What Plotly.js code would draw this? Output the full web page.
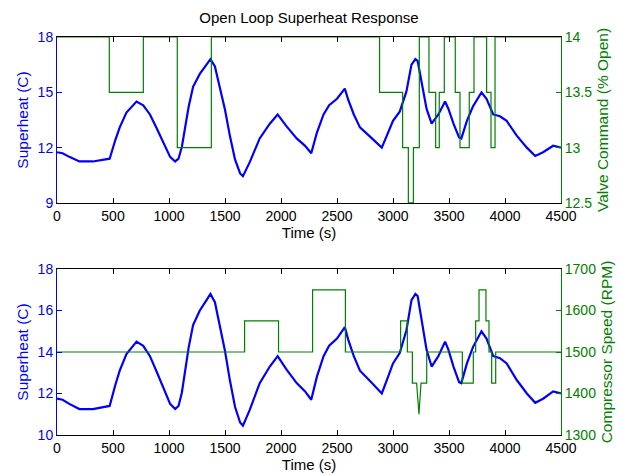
<!DOCTYPE html>
<html>
<head>
<meta charset="utf-8">
<script src="https://cdn.plot.ly/plotly-3.0.1.min.js"></script>
<style>html,body{margin:0;padding:0;background:#fff;}#chart{width:618px;height:475px;}</style>
</head>
<body>
<div id="chart"></div>
<script>
// Superheat (C) over time (s), shared by both panels
var time = [0,50,110,200,320,470,520,560,620,710,770,830,890,950,1010,1055,1085,1115,1145,1175,1215,1275,1335,1370,1410,1455,1500,1545,1590,1635,1660,1720,1810,1900,1970,2050,2140,2215,2270,2320,2380,2430,2500,2570,2600,2650,2705,2795,2900,2945,3000,3060,3120,3165,3200,3220,3255,3300,3345,3405,3465,3495,3540,3590,3610,3660,3715,3790,3835,3895,3955,4015,4105,4195,4270,4340,4430,4500];
var superheat = [11.75,11.7,11.5,11.25,11.25,11.4,12.4,13.1,13.9,14.5,14.3,13.8,13.05,12.25,11.5,11.25,11.4,12.05,13.15,14.2,15.3,16.0,16.5,16.8,16.4,15.3,14.05,12.6,11.35,10.6,10.45,11.2,12.5,13.3,13.8,13.15,12.5,12.1,11.7,12.8,13.8,14.3,14.65,15.2,14.6,13.8,13.1,12.6,12.0,12.65,13.45,13.95,15.05,16.5,16.8,16.7,15.55,14.1,13.3,13.8,14.5,14.1,13.3,12.55,12.5,13.45,14.25,15.0,14.65,13.8,13.7,13.45,12.65,12.0,11.55,11.75,12.1,12.0];

// Valve command (% open), change points (step, held until next)
var valveTime = [0,467,771,1074,1378,2880,3086,3137,3182,3235,3321,3381,3413,3458,3556,3598,3681,3723,3836,3875,3911,4500];
var valve = [14,13.5,14,13,14,13.5,13,12.5,13,14,13.5,13,13.5,14,13.5,13,13.5,14,13.5,13,14,14];

// Compressor speed (RPM), polyline vertices
var compTime = [0,1675,1675,1978,1978,2282,2282,2575,2575,3068,3068,3128,3128,3173,3173,3211,3232,3250,3301,3301,3619,3619,3717,3717,3738,3738,3768,3768,3830,3830,3857,3857,3881,3881,3917,3917,4500];
var compSpeed = [1500,1500,1575,1575,1500,1500,1650,1650,1500,1500,1575,1575,1500,1500,1425,1425,1350,1425,1425,1500,1500,1425,1425,1500,1500,1575,1575,1650,1650,1575,1575,1500,1500,1425,1425,1500,1500];

var xTicks = [0,500,1000,1500,2000,2500,3000,3500,4000,4500];
var FONT = 'Liberation Sans, Arial, Helvetica, sans-serif';
var BLUE = '#0000ff', GREEN = '#008000';

var traces = [
  {x: time, y: superheat, xaxis: 'x', yaxis: 'y', mode: 'lines', line: {color: BLUE, width: 2.2}, hoverinfo: 'none'},
  {x: valveTime, y: valve, xaxis: 'x', yaxis: 'y2', mode: 'lines', line: {color: GREEN, width: 1.2, shape: 'hv'}, hoverinfo: 'none'},
  {x: time, y: superheat, xaxis: 'x2', yaxis: 'y3', mode: 'lines', line: {color: BLUE, width: 2.2}, hoverinfo: 'none'},
  {x: compTime, y: compSpeed, xaxis: 'x2', yaxis: 'y4', mode: 'lines', line: {color: GREEN, width: 1.2}, hoverinfo: 'none'}
];

function xax(anchor) {
  return {anchor: anchor, domain: [0, 1], range: [0, 4500], tickvals: xTicks, ticktext: xTicks.map(String),
    ticks: 'inside', ticklen: 5, tickcolor: '#000', showline: true, linecolor: '#000', linewidth: 1, mirror: 'ticks',
    showgrid: false, zeroline: false, tickfont: {family: FONT, size: 14, color: '#000'},
    title: {text: 'Time (s)', font: {family: FONT, size: 15, color: '#000'}, standoff: 1}};
}
function yax(domain, range, tv, color, side, overlay, title) {
  var a = {range: range, tickvals: tv, ticktext: tv.map(String), ticks: 'inside', ticklen: 5, tickcolor: color,
    showline: true, linecolor: color, linewidth: 1, showgrid: false, zeroline: false, side: side,
    tickfont: {family: FONT, size: 14, color: color},
    title: {text: title, font: {family: FONT, size: 15.5, color: color}, standoff: 5}};
  if (overlay) { a.overlaying = overlay; a.anchor = overlay === 'y' ? 'x' : 'x2'; }
  else { a.domain = domain; }
  return a;
}

var layout = {
  width: 618, height: 475,
  margin: {l: 57, r: 57, t: 37, b: 40, pad: 0},
  paper_bgcolor: '#fff', plot_bgcolor: '#fff',
  showlegend: false,
  title: {text: 'Open Loop Superheat Response', font: {family: FONT, size: 15, color: '#000'}, x: 0.5, xref: 'paper', y: 0.962, yref: 'container', yanchor: 'middle'},
  xaxis: xax('y'),
  xaxis2: xax('y3'),
  yaxis: yax([0.583, 1], [9, 18], [9, 12, 15, 18], BLUE, 'left', null, 'Superheat (C)'),
  yaxis2: yax(null, [12.5, 14], [12.5, 13, 13.5, 14], GREEN, 'right', 'y', 'Valve Command (% Open)'),
  yaxis3: yax([0, 0.417], [10, 18], [10, 12, 14, 16, 18], BLUE, 'left', null, 'Superheat (C)'),
  yaxis4: yax(null, [1300, 1700], [1300, 1400, 1500, 1600, 1700], GREEN, 'right', 'y3', 'Compressor Speed (RPM)')
};

Plotly.newPlot('chart', traces, layout, {displayModeBar: false, staticPlot: true});
</script>
</body>
</html>
